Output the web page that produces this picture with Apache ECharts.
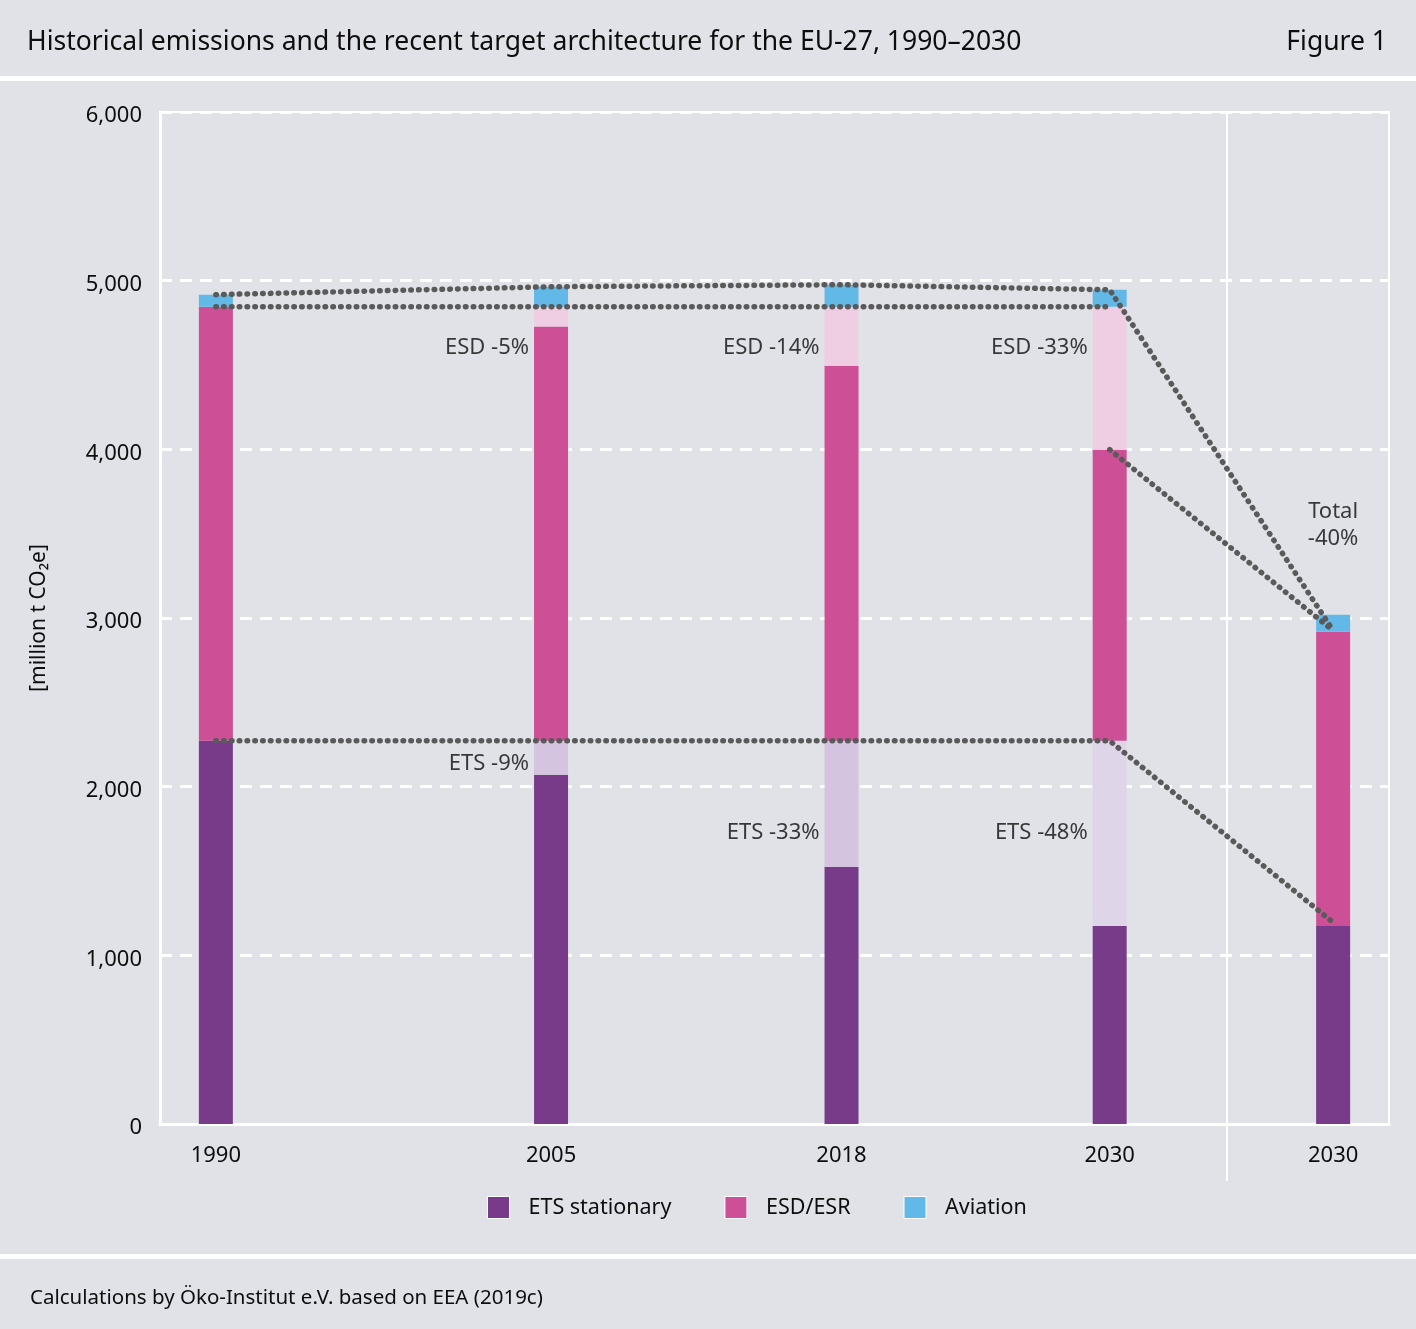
<!DOCTYPE html>
<html>
<head>
<meta charset="utf-8">
<script src="https://cdn.jsdelivr.net/npm/echarts@6.0.0/dist/echarts.min.js"></script>
<style>
  html, body { margin: 0; padding: 0; background: #e1e2e7; }
  #chart { width: 1416px; height: 1329px; }
</style>
</head>
<body>
<div id="chart"></div>
<script>
// bar positions on a year scale; the second 2030 column sits at 2040
var years = [1990, 2005, 2018, 2030, 2040];
var yearLabels = ['1990', '2005', '2018', '2030', '2030'];

// million t CO2e, bottom to top
var etsStationary = [2272, 2070, 1524, 1174, 1174];
var etsReduction = [0, 202, 748, 1098, 0];
var esdEsr = [2574, 2457, 2224, 1726, 1744];
var esdReduction = [0, 117, 350, 848, 0];
var aviation = [71, 118, 130, 100, 101];

// dotted guide lines [year, value]
var totalLine = [[1990, 4917], [2005, 4964], [2018, 4976], [2030, 4946], [2040, 2925]];
var esdBaseLine = [[1990, 4846], [2030, 4846]];
var esdTargetLine = [[2030, 3998], [2040, 2925]];
var etsLine = [[1990, 2272], [2030, 2272], [2040, 1195]];

// annotation texts and where they sit
var esdNotes = ['ESD -5%', 'ESD -14%', 'ESD -33%'];
var esdNoteAt = [[2005, 4601], [2018, 4601], [2030, 4601]];
var etsNotes = ['ETS -9%', 'ETS -33%', 'ETS -48%'];
var etsNoteAt = [[2005, 2134], [2018, 1725], [2030, 1725]];
var totalNote = 'Total\n-40%';
var totalNoteAt = [2040, 3551];

var yTicks = [0, 1000, 2000, 3000, 4000, 5000, 6000];

var FONT = 'Noto Sans';
var INK = '#0d0d0d';
var chart = echarts.init(document.getElementById('chart'));

// value first so the stack runs on the value dimension, year is mapped to x
function pairs(vals) {
  return vals.map(function (v, i) { return [v, years[i]]; });
}

function ghostEts() {
  return etsReduction.map(function (v, i) {
    return {
      value: [v, years[i]],
      itemStyle: { color: years[i] === 2030 ? '#dfd5e8' : '#d4c4df' }
    };
  });
}

function stackBar(name, data, color) {
  var s = {
    name: name,
    type: 'bar',
    stack: 'em',
    barWidth: 34,
    encode: { x: 1, y: 0 },
    data: data
  };
  if (color) s.itemStyle = { color: color };
  return s;
}

function dotted(name, data) {
  return {
    name: name,
    type: 'line',
    data: data,
    symbol: 'none',
    silent: true,
    z: 5,
    lineStyle: { color: '#5a5a5a', width: 5.5, type: [0.5, 7.3], cap: 'round' }
  };
}

function notes(texts, at, pos) {
  return {
    type: 'scatter',
    symbolSize: 0,
    silent: true,
    z: 6,
    data: at.map(function (p, i) {
      return { value: p, label: { formatter: texts[i] } };
    }),
    label: {
      show: true,
      position: pos,
      distance: 22,
      color: INK,
      fontFamily: FONT,
      fontSize: 22,
      lineHeight: 27,
      align: pos === 'inside' ? 'center' : 'right'
    }
  };
}

var bands = [
  { type: 'rect', shape: { x: 0, y: 76, width: 1416, height: 5 }, style: { fill: '#ffffff' } },
  { type: 'rect', shape: { x: 0, y: 1254, width: 1416, height: 5 }, style: { fill: '#ffffff' } }
];

var option = {
  backgroundColor: '#e1e2e7',
  animation: false,
  title: [{
    text: 'Historical emissions and the recent target architecture for the EU-27, 1990–2030',
    left: 22, top: 24,
    textStyle: { fontFamily: FONT, fontSize: 26.5, fontWeight: 'normal', color: INK }
  }, {
    text: 'Figure 1',
    right: 24, top: 24,
    textStyle: { fontFamily: FONT, fontSize: 26.5, fontWeight: 'normal', color: INK }
  }, {
    text: 'Calculations by Öko-Institut e.V. based on EEA (2019c)',
    left: 25, top: 1283,
    textStyle: { fontFamily: FONT, fontSize: 20.5, fontWeight: 'normal', color: INK }
  }],
  graphic: bands,
  legend: {
    data: ['ETS stationary', 'ESD/ESR', 'Aviation'],
    bottom: 105,
    left: 482,
    icon: 'rect',
    itemWidth: 22,
    itemHeight: 22,
    itemGap: 53,
    itemStyle: { borderColor: '#ffffff', borderWidth: 1 },
    textStyle: { fontFamily: FONT, fontSize: 21.5, color: INK, padding: [0, 0, 0, 14] }
  },
  grid: {
    left: 160, right: 27, top: 112, bottom: 205,
    show: true, borderColor: '#ffffff', borderWidth: 2, backgroundColor: 'transparent'
  },
  xAxis: {
    type: 'value',
    min: 1987.5,
    max: 2042.5,
    splitLine: { show: false },
    axisTick: { show: false },
    axisLine: { show: true, lineStyle: { color: '#ffffff', width: 3 } },
    axisLabel: {
      customValues: years,
      margin: 21,
      fontFamily: FONT,
      fontSize: 22,
      color: INK,
      formatter: function (v) { return yearLabels[years.indexOf(v)]; }
    }
  },
  yAxis: {
    type: 'value',
    min: 0,
    max: 6000,
    interval: 1000,
    name: '[million t CO₂e]',
    nameLocation: 'middle',
    nameGap: 110,
    nameTextStyle: { fontFamily: FONT, fontSize: 21, color: INK },
    axisLine: { show: true, lineStyle: { color: '#ffffff', width: 3 } },
    axisTick: { show: false },
    axisLabel: {
      margin: 18,
      fontFamily: FONT,
      fontSize: 22,
      color: INK,
      verticalAlign: 'top',
      lineHeight: 8,
      customValues: yTicks,
      formatter: function (v) { return v.toLocaleString('en-US'); }
    },
    splitLine: { show: true, lineStyle: { color: '#ffffff', width: 3, type: [12, 8] } }
  },
  series: [
    stackBar('ETS stationary', pairs(etsStationary), '#773b8a'),
    stackBar('ETS reduction', ghostEts()),
    stackBar('ESD/ESR', pairs(esdEsr), '#cd4f96'),
    stackBar('ESD reduction', pairs(esdReduction), '#efcee3'),
    stackBar('Aviation', pairs(aviation), '#62b9e7'),
    dotted('total', totalLine),
    dotted('esd base', esdBaseLine),
    dotted('esd target', esdTargetLine),
    dotted('ets', etsLine),
    notes(esdNotes, esdNoteAt, 'left'),
    notes(etsNotes, etsNoteAt, 'left'),
    notes([totalNote], [totalNoteAt], 'inside')
  ]
};

chart.setOption(option);

// divider between historical columns and the 2030 target column
var divX = chart.convertToPixel({ xAxisIndex: 0 }, 2035.25);
var plotTop = chart.convertToPixel({ yAxisIndex: 0 }, 6000);
var plotBottom = chart.convertToPixel({ yAxisIndex: 0 }, 0);
chart.setOption({
  graphic: bands.concat([
    { type: 'line', shape: { x1: divX, y1: plotTop, x2: divX, y2: plotBottom + 57 }, style: { stroke: '#ffffff', lineWidth: 2 } }
  ])
});
</script>
</body>
</html>
